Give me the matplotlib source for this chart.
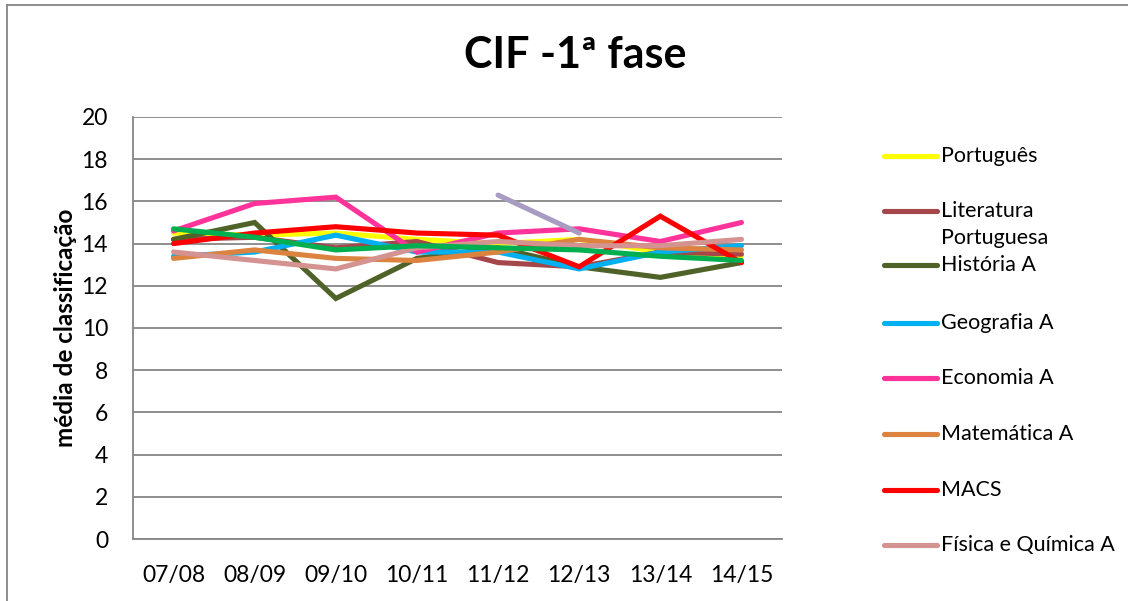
import numpy as np
import matplotlib
matplotlib.use("Agg")
import matplotlib.pyplot as plt
from matplotlib.lines import Line2D

plt.rcParams["font.family"] = ["Lato", "DejaVu Sans"]

anos = ["07/08", "08/09", "09/10", "10/11", "11/12", "12/13", "13/14", "14/15"]

portugues = [14.5, 14.4, 14.5, 14.2, 14.0, 14.2, 13.6, 13.4]
literatura = [14.2, 14.3, 13.8, 14.1, 13.1, 12.9, 13.6, 13.5]
historia = [14.2, 15.0, 11.4, 13.3, 13.8, 12.9, 12.4, 13.1]
geografia = [13.4, 13.6, 14.4, 13.6, 13.6, 12.8, 13.6, 13.9]
economia = [14.6, 15.9, 16.2, 13.6, 14.5, 14.7, 14.1, 15.0]
matematica = [13.3, 13.7, 13.3, 13.2, 13.6, 14.2, 13.8, 13.7]
macs = [14.0, 14.5, 14.8, 14.5, 14.4, 12.9, 15.3, 13.1]
fq = [13.6, 13.2, 12.8, 13.8, 14.1, 13.9, 13.9, 14.2]
biologia = [14.7, 14.3, 13.7, 13.9, 13.8, 13.7, 13.4, 13.2]
geometria = [np.nan, np.nan, np.nan, np.nan, 16.3, 14.5, np.nan, np.nan]

series = [
    ("Português", portugues, "#FFFF00"),
    ("Literatura\nPortuguesa", literatura, "#A5474A"),
    ("História A", historia, "#4F6228"),
    ("Geografia A", geografia, "#00B0F0"),
    ("Economia A", economia, "#FF3399"),
    ("Matemática A", matematica, "#DD8340"),
    ("MACS", macs, "#FF0000"),
    ("Física e Química A", fq, "#D49290"),
    ("Biologia e Geologia", biologia, "#00B050"),
    ("Geometria Descritiva A", geometria, "#A99CC2"),
]

fig = plt.figure(figsize=(11.28, 6.01), dpi=100)
W, H = 1128, 601
ax = fig.add_axes([133 / W, 1 - 539 / H, (782 - 133) / W, (539 - 117) / H])

x = np.arange(len(anos))
for name, vals, col in series:
    ax.plot(x, vals, color=col, lw=3.7, solid_capstyle="round", solid_joinstyle="miter")

ax.set_xlim(-0.5, len(anos) - 0.5)
ax.set_ylim(0, 20)
ax.set_yticks(range(0, 21, 2))
ax.set_xticks(x)
ax.set_xticklabels(anos)
ax.tick_params(axis="both", length=0, labelsize=16.5)
ax.tick_params(axis="y", pad=18)
ax.tick_params(axis="x", pad=19)
ax.grid(axis="y", color="#868686", lw=1.3)
ax.set_axisbelow(True)
for s in ["top", "right"]:
    ax.spines[s].set_visible(False)
ax.spines["left"].set_color("#868686")
ax.spines["bottom"].set_color("#868686")
ax.spines["left"].set_linewidth(1.3)
ax.spines["bottom"].set_linewidth(1.3)

ax.set_ylabel("média de classificação", fontsize=17.5, fontweight="bold", labelpad=3)

fig.text(575 / W, 1 - 55 / H, "CIF -1ª fase", fontsize=31, fontweight="bold",
         ha="center", va="center")

# chart border (only left and top visible in the crop)
fig.add_artist(Line2D([7 / W, 7 / W], [0, 1 - 5 / H], color="#868686", lw=1.3,
                      transform=fig.transFigure))
fig.add_artist(Line2D([7 / W, 1], [1 - 5 / H, 1 - 5 / H], color="#868686", lw=1.3,
                      transform=fig.transFigure))

# legend drawn by hand, Excel style (only first 8 entries fit)
leg_y = [156, 211, 265, 323, 378, 434, 490, 545]
for (name, vals, col), yy in zip(series[:8], leg_y):
    fig.add_artist(Line2D([884 / W, 937 / W], [1 - yy / H, 1 - yy / H], color=col,
                          lw=3.7, solid_capstyle="round", transform=fig.transFigure))
    for i, part in enumerate(name.split("\n")):
        fig.text(941 / W, 1 - (yy + i * 27) / H, part, fontsize=15.5, ha="left",
                 va="center")

fig.savefig("out.png", dpi=100)
